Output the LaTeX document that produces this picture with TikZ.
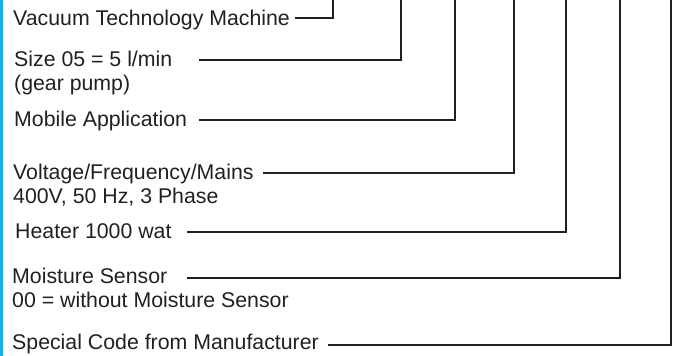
\documentclass[tikz,border=0pt]{standalone}
\usepackage{fontspec}
\setmainfont{Liberation Sans}
\usepackage{xcolor}
\usetikzlibrary{positioning}
\definecolor{EdgeBlue}{HTML}{1BB0E8}
\definecolor{TextDark}{HTML}{231F20}

\begin{document}
\begin{tikzpicture}[x=1pt, y=-1pt,
    every node/.style={font=\fontsize{21.3}{24}\selectfont, text=TextDark, inner sep=0pt, anchor=base west},
    lead/.style={draw=TextDark, line width=2pt}]
        \useasboundingbox (0,0) rectangle (683,356);
        \fill[EdgeBlue] (0,0) rectangle (2.5,356);
        % labels
        \node (vac)   at (13,25.3)  {Vacuum Technology Machine};
        \node (size)  at (14,66.7)  {Size 05 = 5 l/min};
        \node (gear)  at (14,90.5)  {(gear pump)};
        \node (mob)   at (14,126.3) {Mobile Application};
        \node (volt)  at (13,179.6) {Voltage/Frequency/Mains};
        \node (mains) at (13,203)   {400V, 50 Hz, 3 Phase};
        \node (heat)  at (15,238.5) {Heater 1000 wat};
        \node (moist) at (12,283.5) {Moisture Sensor};
        \node (nomo)  at (12,307.2) {00 = without Moisture Sensor};
        \node (spec)  at (12,349.6) {Special Code from Manufacturer};
        % lead start points
        \coordinate (s1) at (295,18.3);
        \coordinate (s2) at (199,59.7);
        \coordinate (s3) at (199,120.3);
        \coordinate (s4) at (263,173);
        \coordinate (s5) at (187,232.3);
        \coordinate (s6) at (187,278);
        \coordinate (s7) at (328,344.7);
        % lead ends at top
        \coordinate (t1) at (333,0);
        \coordinate (t2) at (401,0);
        \coordinate (t3) at (455,0);
        \coordinate (t4) at (514,0);
        \coordinate (t5) at (566,0);
        \coordinate (t6) at (620,0);
        \coordinate (t7) at (671,0);
        \draw[lead] (s1) -| (t1);
        \draw[lead] (s2) -| (t2);
        \draw[lead] (s3) -| (t3);
        \draw[lead] (s4) -| (t4);
        \draw[lead] (s5) -| (t5);
        \draw[lead] (s6) -| (t6);
        \draw[lead] (s7) -| (t7);
      \end{tikzpicture}
\end{document}
